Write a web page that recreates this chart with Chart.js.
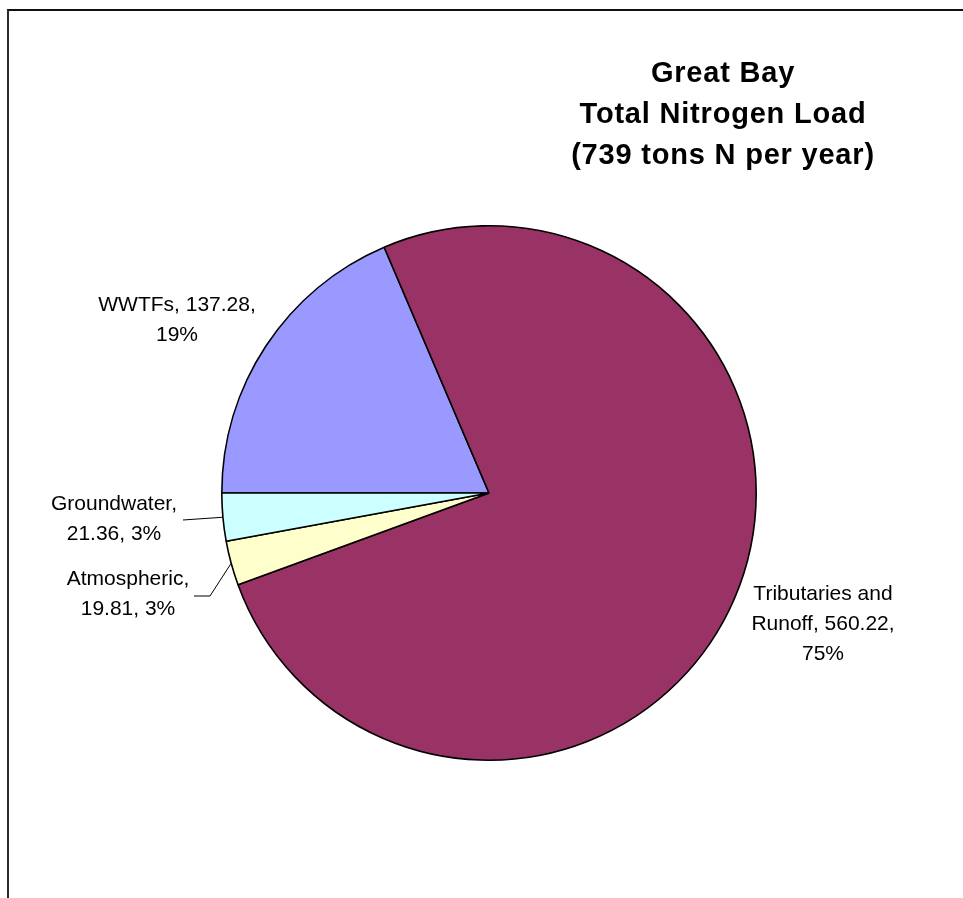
<!DOCTYPE html>
<html>
<head>
<meta charset="utf-8">
<title>Great Bay Total Nitrogen Load</title>
<script src="https://cdn.jsdelivr.net/npm/chart.js@4/dist/chart.umd.min.js"></script>
<style>
  html, body { margin: 0; padding: 0; background: #fff; overflow: hidden; }
  #frame {
    position: absolute; left: 7px; top: 9px;
    width: 1000px; height: 1000px;
    border-left: 2px solid #2a2a2a;
    border-top: 2px solid #111;
  }
  #wrap { position: absolute; left: 0; top: 0; width: 963px; height: 898px; }
</style>
</head>
<body>
<div id="frame"></div>
<div id="wrap"><canvas id="myChart"></canvas></div>
<script>
// data
const sources = ['WWTFs', 'Tributaries and Runoff', 'Atmospheric', 'Groundwater'];
const loads = [137.28, 560.22, 19.81, 21.36];
const percents = ['19%', '75%', '3%', '3%'];
const sliceColors = ['#9999FF', '#993366', '#FFFFCC', '#CCFFFF'];
const titleLines = ['Great Bay', 'Total Nitrogen Load', '(739 tons N per year)'];

// where each data label sits (centre x, first baseline) and whether it gets a leader line
const labelSpots = [
  { x: 177, y: 311, lines: ['WWTFs, 137.28,', '19%'] },
  { x: 823, y: 600, lines: ['Tributaries and', 'Runoff, 560.22,', '75%'] },
  { x: 128, y: 585, lines: ['Atmospheric,', '19.81, 3%'], leader: [[194, 596], [210, 596]] },
  { x: 114, y: 510, lines: ['Groundwater,', '21.36, 3%'], leader: [[183, 520]] }
];

const pieLabels = {
  id: 'pieLabels',
  afterDraw(chart) {
    const ctx = chart.ctx;
    const meta = chart.getDatasetMeta(0);
    ctx.save();
    ctx.fillStyle = '#000';
    ctx.textAlign = 'center';
    ctx.textBaseline = 'alphabetic';

    // title
    ctx.font = 'bold 29px "Liberation Sans", Arial, sans-serif';
    try { ctx.letterSpacing = '0.8px'; } catch (e) {}
    titleLines.forEach((t, i) => ctx.fillText(t, 723, 82 + i * 41));
    try { ctx.letterSpacing = '0px'; } catch (e) {}

    // data labels
    ctx.font = '21px "Liberation Sans", Arial, sans-serif';
    labelSpots.forEach((spot, i) => {
      spot.lines.forEach((t, j) => ctx.fillText(t, spot.x, spot.y + j * 30));
      if (spot.leader) {
        const arc = meta.data[i];
        const a = (arc.startAngle + arc.endAngle) / 2;
        const ex = arc.x + Math.cos(a) * arc.outerRadius;
        const ey = arc.y + Math.sin(a) * arc.outerRadius;
        ctx.beginPath();
        ctx.strokeStyle = '#000';
        ctx.lineWidth = 1;
        ctx.moveTo(spot.leader[0][0], spot.leader[0][1]);
        for (let k = 1; k < spot.leader.length; k++) ctx.lineTo(spot.leader[k][0], spot.leader[k][1]);
        ctx.lineTo(ex, ey);
        ctx.stroke();
      }
    });
    ctx.restore();
  }
};

const ctx = document.getElementById('myChart');
const nitrogenChart = new Chart(ctx, {
  type: 'pie',
  data: {
    labels: sources,
    datasets: [{
      data: loads,
      backgroundColor: sliceColors,
      borderColor: '#000',
      borderWidth: 1.6
    }]
  },
  options: {
    responsive: true,
    maintainAspectRatio: false,
    animation: false,
    rotation: 270,
    layout: {
      padding: { left: 221, top: 225, right: 206, bottom: 137 }
    },
    plugins: {
      legend: { display: false },
      tooltip: { enabled: false },
      title: { display: false }
    }
  },
  plugins: [pieLabels]
});
</script>
</body>
</html>
